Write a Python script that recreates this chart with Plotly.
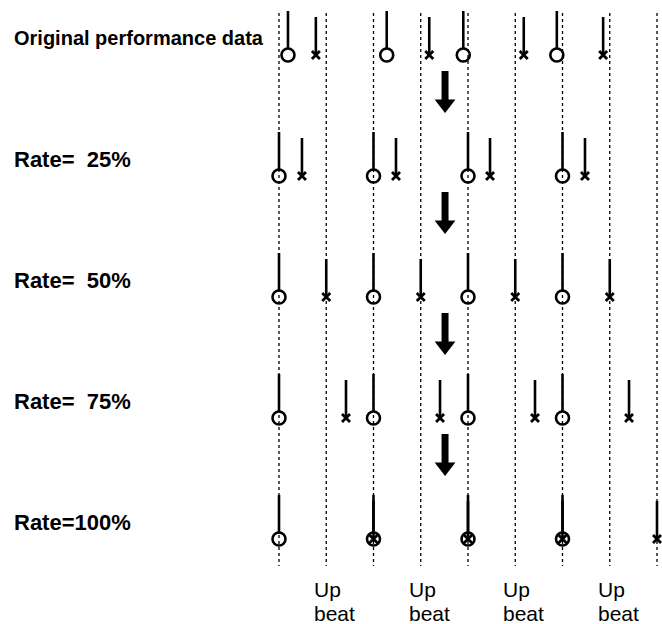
import plotly.graph_objects as go

# note onsets in beats for each row (circle = on-beat note, x = up-beat note)
row_labels = ["Original performance data", "Rate=\u00a0\u00a025%", "Rate=\u00a0\u00a050%",
              "Rate=\u00a0\u00a075%", "Rate=100%"]
down_notes = [
    [0.095, 1.14, 1.95, 2.94],
    [0, 1, 2, 3],
    [0, 1, 2, 3],
    [0, 1, 2, 3],
    [0, 1, 2, 3],
]
up_notes = [
    [0.39, 1.59, 2.59, 3.43],
    [0.243, 1.238, 2.233, 3.238],
    [0.5, 1.5, 2.5, 3.5],
    [0.709, 1.704, 2.709, 3.704],
    [1, 2, 3, 4],
]
grid_beats = [0, 0.5, 1, 1.5, 2, 2.5, 3, 3.5, 4]
upbeat_beats = [0.5, 1.5, 2.5, 3.5]
upbeat_lines = ["Up", "beat"]

W, H = 662, 624
PX_X = 94.5      # pixels per beat
X0 = 279         # pixel of beat 0
ROW_PX = 121     # pixels per row
Y0 = 55          # pixel of first row
u = 1.0 / ROW_PX

fig = go.Figure()

# dotted beat guides
for b in grid_beats:
    fig.add_shape(type="line", xref="x", yref="y", x0=b, x1=b,
                  y0=-42 * u, y1=len(row_labels) - 1 + 27 * u, layer="below",
                  line=dict(color="black", width=1.3, dash="dot"))

# stems
sx, sy = [], []
for r, notes in enumerate(down_notes):
    for n in notes:
        sx += [n, n, None]
        sy += [r - 44 * u, r - 6 * u, None]
for r, notes in enumerate(up_notes):
    for n in notes:
        sx += [n, n, None]
        sy += [r - 38 * u, r, None]
fig.add_trace(go.Scatter(x=sx, y=sy, mode="lines",
                         line=dict(color="black", width=2.6), hoverinfo="skip"))

# note heads
cx = [n for notes in down_notes for n in notes]
cy = [r for r, notes in enumerate(down_notes) for n in notes]
fig.add_trace(go.Scatter(x=cx, y=cy, mode="markers",
                         marker=dict(symbol="circle-open", size=13, color="black",
                                     line=dict(width=2.6)),
                         hoverinfo="skip"))
xx = [n for notes in up_notes for n in notes]
xy = [r for r, notes in enumerate(up_notes) for n in notes]
fig.add_trace(go.Scatter(x=xx, y=xy, mode="markers",
                         marker=dict(symbol="x-thin", size=8, color="black",
                                     line=dict(width=2.8, color="black")),
                         hoverinfo="skip"))

# arrows between rows
ARROW_X = 1.757
ax, ay, hx, hy = [], [], [], []
for r in range(len(row_labels) - 1):
    ax += [ARROW_X, ARROW_X, None]
    ay += [r + 16 * u, r + 46 * u, None]
    hx.append(ARROW_X)
    hy.append(r + 49 * u)
fig.add_trace(go.Scatter(x=ax, y=ay, mode="lines",
                         line=dict(color="black", width=7), hoverinfo="skip"))
fig.add_trace(go.Scatter(x=hx, y=hy, mode="markers",
                         marker=dict(symbol="triangle-down", size=18, color="black"),
                         hoverinfo="skip"))

# row labels
for r, lab in enumerate(row_labels):
    fig.add_annotation(x=12 / W, xref="paper", y=r, yref="y", yshift=17,
                       text=lab, showarrow=False, xanchor="left", yanchor="middle",
                       font=dict(family="Liberation Sans", size=20 if r == 0 else 22,
                                 color="black", weight="bold"))

# up beat labels
last = len(row_labels) - 1
for b in upbeat_beats:
    for i, t in enumerate(upbeat_lines):
        fig.add_annotation(x=b, xref="x", xshift=-14, y=last + (50 + 24 * i) * u, yref="y",
                           text=t, showarrow=False, xanchor="left", yanchor="middle",
                           font=dict(family="Liberation Sans", size=21, color="black"))

fig.update_xaxes(range=[-X0 / PX_X, (W - X0) / PX_X], visible=False)
fig.update_yaxes(range=[(H - Y0) / ROW_PX, -Y0 / ROW_PX], visible=False)
fig.update_layout(width=W, height=H, margin=dict(l=0, r=0, t=0, b=0),
                  plot_bgcolor="white", paper_bgcolor="white", showlegend=False)

# drop the page margin so the 662x624 figure fills the window exactly
fig.write_html("out.html", config={"displayModeBar": False},
               post_script="document.body.style.margin='0';"
                           "document.body.style.overflow='hidden';")
